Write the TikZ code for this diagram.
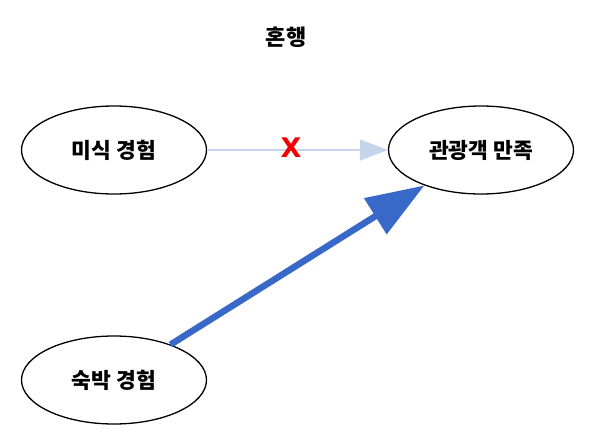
\documentclass[tikz,border=0pt]{standalone}
\usepackage{fontspec}
\setmainfont{Liberation Sans}
\newfontfamily\kr{Noto Sans CJK KR}
\newfontfamily\xfont{DejaVu Sans}
\usetikzlibrary{arrows.meta,shapes.geometric}
\definecolor{lightarr}{RGB}{197,213,236}
\definecolor{strongarr}{RGB}{56,104,200}
\definecolor{xred}{RGB}{245,0,0}
\tikzset{
  construct/.style={draw, line width=1.3pt, ellipse, minimum width=185pt, minimum height=88pt, inner sep=0pt, font=\kr\bfseries\fontsize{21.5}{24}\selectfont},
  weakpath/.style={draw=lightarr, line width=2pt, -{Triangle[length=28pt,width=21pt]}},
  strongpath/.style={draw=strongarr, line width=6.5pt, -{Triangle[length=58pt,width=41pt]}},
}
\begin{document}
\begin{tikzpicture}[x=1pt,y=-1pt]
\useasboundingbox (0,0) rectangle (593,436);
\node[font=\kr\bfseries\fontsize{22}{24}\selectfont] (title) at (286,37) {혼행};
\node[construct] (mi) at (114,150) {미식 경험};
\node[construct] (gm) at (481,150) {관광객 만족};
\node[construct] (sk) at (114,380) {숙박 경험};
\draw[weakpath] (mi) -- (gm);
\node[text=xred, font=\xfont\bfseries\fontsize{27}{27}\selectfont, inner sep=0pt] (xmark) at (291,148) {X};
\draw[strongpath] (sk) -- (gm);
\end{tikzpicture}
\end{document}
